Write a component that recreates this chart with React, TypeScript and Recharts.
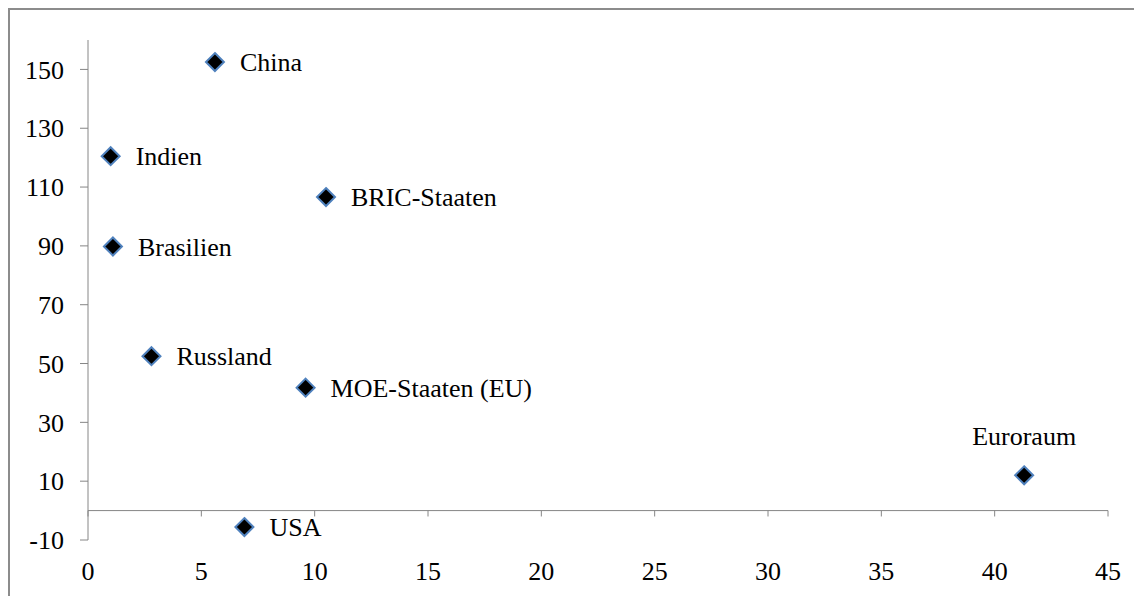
import { ScatterChart, Scatter, XAxis, YAxis, ReferenceLine } from 'recharts';

// Values
const countries = ['China', 'Indien', 'BRIC-Staaten', 'Brasilien', 'Russland', 'MOE-Staaten (EU)', 'Euroraum', 'USA'];
const xValues = [5.6, 1.0, 10.5, 1.1, 2.8, 9.6, 41.3, 6.9];
const yValues = [152.5, 120.5, 106.6, 89.8, 52.5, 41.8, 12, -5.6];
const xTicks = [0, 5, 10, 15, 20, 25, 30, 35, 40, 45];
const yTicks = [-10, 10, 30, 50, 70, 90, 110, 130, 150];
const labelsAbove = ['Euroraum'];

const points = countries.map((name, i) => ({ name, x: xValues[i], y: yValues[i] }));

const FONT = 'Liberation Serif';
const FONT_SIZE = 26;
const AXIS = '#868686';

// diamond marker plus its country label
const DiamondWithLabel = (props: any) => {
  const { cx, cy, payload } = props;
  const r = 9;
  const above = labelsAbove.includes(payload.name);
  return (
    <g>
      <polygon
        points={`${cx},${cy - r} ${cx + r},${cy} ${cx},${cy + r} ${cx - r},${cy}`}
        fill="#000"
        stroke="#4f81bd"
        strokeWidth={2}
      />
      {above ? (
        <text x={cx} y={cy - 30} textAnchor="middle" fontFamily={FONT} fontSize={FONT_SIZE} fill="#000">
          {payload.name}
        </text>
      ) : (
        <text x={cx + 25} y={cy} dy="0.35em" textAnchor="start" fontFamily={FONT} fontSize={FONT_SIZE} fill="#000">
          {payload.name}
        </text>
      )}
    </g>
  );
};

export default function App() {
  return (
    <div style={{ position: 'relative', width: 1134, height: 588, overflow: 'hidden' }}>
      <div
        style={{
          position: 'absolute', left: 0, top: 0, width: 1200, height: 700,
          borderTop: '2px solid #8c8c8c', borderLeft: '2px solid #8c8c8c', boxSizing: 'border-box',
        }}
      />
      <ScatterChart width={1134} height={588} margin={{ top: 32, right: 34, bottom: 0, left: 0 }}>
        <XAxis
          type="number"
          dataKey="x"
          domain={[0, 45]}
          ticks={xTicks}
          axisLine={false}
          tickLine={false}
          tickSize={6}
          tickMargin={16}
          height={56}
          tick={{ fill: '#000', fontSize: FONT_SIZE, fontFamily: FONT }}
        />
        <YAxis
          type="number"
          dataKey="y"
          domain={[-10, 160]}
          ticks={yTicks}
          width={80}
          axisLine={{ stroke: AXIS }}
          tickLine={{ stroke: AXIS }}
          tickSize={8}
          tickMargin={16}
          tick={{ fill: '#000', fontSize: FONT_SIZE, fontFamily: FONT }}
        />
        <ReferenceLine y={0} stroke={AXIS} />
        {xTicks.map(t => (
          <ReferenceLine key={t} segment={[{ x: t, y: 0 }, { x: t, y: -2 }]} stroke={AXIS} />
        ))}
        <Scatter data={points} shape={DiamondWithLabel} isAnimationActive={false} />
      </ScatterChart>
    </div>
  );
}
